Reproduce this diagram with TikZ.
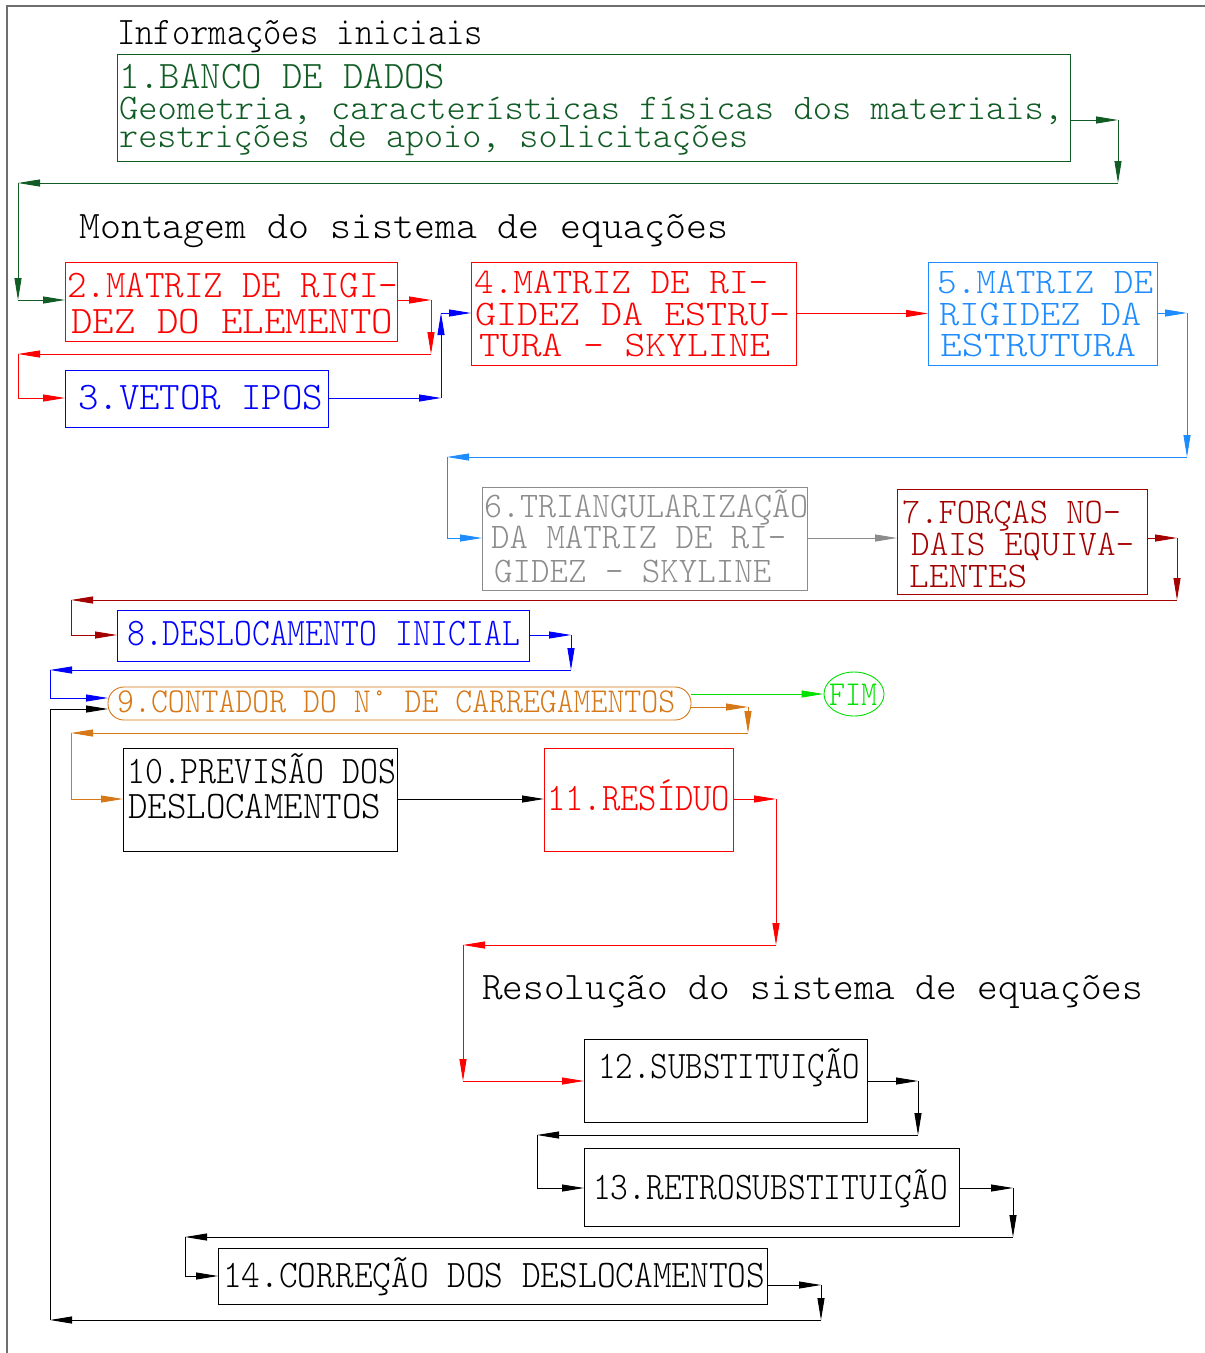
\documentclass[tikz,border=0pt]{standalone}
\usepackage{fontspec}
\usepackage{graphicx}
\usetikzlibrary{arrows.meta,shapes.geometric}
\newfontfamily\cadfont{lmmonolt10-regular.otf}
\definecolor{dkgreen}{RGB}{16,92,36}
\definecolor{cadred}{RGB}{255,0,0}
\definecolor{cadblue}{RGB}{0,0,255}
\definecolor{azure}{RGB}{30,140,255}
\definecolor{cadgray}{RGB}{140,140,140}
\definecolor{dkred}{RGB}{165,0,0}
\definecolor{cadorange}{RGB}{214,120,24}
\definecolor{brgreen}{RGB}{0,225,0}
\definecolor{framegray}{RGB}{110,110,110}
% squeeze a line of text to a given width, keeping its height
\newcommand\cadline[2]{\resizebox{#1pt}{\height}{#2}}
\begin{document}
\begin{tikzpicture}[x=1pt,y=-1pt,
  box/.style={draw, line width=0.9pt, inner sep=0pt, outer sep=0pt, anchor=north west},
  lbl/.style={inner sep=0pt, anchor=base west, font=\cadfont\fontsize{39}{39}\selectfont},
  tight/.style={font=\cadfont\fontsize{36}{36}\selectfont},
  small/.style={font=\cadfont\fontsize{35}{35}\selectfont},
  arr/.style={line width=0.9pt, -{Triangle[length=22pt,width=7pt]}},
  seg/.style={line width=0.9pt},
]
\useasboundingbox (0,0) rectangle (1205,1353);

% sheet frame
\draw[framegray, line width=1.2pt] (7,1353) -- (7,6) -- (1205,6);

% ---------- headings ----------
\node[lbl] (h1) at (117,44) {\cadline{366}{Informações iniciais}};
\node[lbl] (h2) at (79,238) {\cadline{649}{Montagem do sistema de equações}};
\node[lbl] (h3) at (482,999) {\cadline{661}{Resolução do sistema de equações}};

% ---------- boxes ----------
\node[box, dkgreen, minimum width=953pt, minimum height=107pt] (b1) at (117,54) {};
\node[box, cadred, minimum width=332pt, minimum height=79pt] (b2) at (65,262) {};
\node[box, cadblue, minimum width=263pt, minimum height=57pt] (b3) at (65,370) {};
\node[box, cadred, minimum width=325pt, minimum height=103pt] (b4) at (471,262) {};
\node[box, azure, minimum width=229pt, minimum height=103pt] (b5) at (928,262) {};
\node[box, cadgray, minimum width=325pt, minimum height=103pt] (b6) at (482,487) {};
\node[box, dkred, minimum width=250pt, minimum height=105pt] (b7) at (897,489) {};
\node[box, cadblue, minimum width=412pt, minimum height=51pt] (b8) at (117,610) {};
\node[box, cadorange, rounded corners=16pt, minimum width=583pt, minimum height=33pt] (b9) at (108,687) {};
\node[draw, brgreen, ellipse, line width=0.9pt, inner sep=0pt, minimum width=60pt, minimum height=44pt] (fim) at (854,694) {};
\node[box, black, minimum width=274pt, minimum height=103pt] (b10) at (123,748) {};
\node[box, cadred, minimum width=189pt, minimum height=103pt] (b11) at (544,748) {};
\node[box, black, minimum width=283pt, minimum height=83pt] (b12) at (584,1039) {};
\node[box, black, minimum width=375pt, minimum height=78pt] (b13) at (584,1148) {};
\node[box, black, minimum width=549pt, minimum height=56pt] (b14) at (218,1248) {};

% ---------- box texts ----------
\begin{scope}[dkgreen]
\node[lbl] (t1a) at (119,88) {\cadline{326}{1.BANCO DE DADOS}};
\node[lbl, tight] (t1b) at (119,119) {\cadline{944}{Geometria, características físicas dos materiais,}};
\node[lbl, tight] (t1c) at (119,147) {\cadline{629}{restrições de apoio, solicitações}};
\end{scope}
\begin{scope}[cadred]
\node[lbl] (t2a) at (67,297) {\cadline{331}{2.MATRIZ DE RIGI-}};
\node[lbl] (t2b) at (71,333) {\cadline{322}{DEZ DO ELEMENTO}};
\node[lbl, tight] (t4a) at (474,293) {\cadline{294}{4.MATRIZ DE RI-}};
\node[lbl, tight] (t4b) at (475,325) {\cadline{315}{GIDEZ DA ESTRU-}};
\node[lbl, tight] (t4c) at (479,356) {\cadline{291}{TURA - SKYLINE}};
\node[lbl] (t11) at (547,810) {\cadline{183}{11.RESÍDUO}};
\end{scope}
\begin{scope}[cadblue]
\node[lbl] (t3) at (78,409) {\cadline{245}{3.VETOR IPOS}};
\node[lbl] (t8) at (127,645) {\cadline{393}{8.DESLOCAMENTO INICIAL}};
\end{scope}
\begin{scope}[azure]
\node[lbl, tight] (t5a) at (937,293) {\cadline{216}{5.MATRIZ DE}};
\node[lbl, tight] (t5b) at (939,325) {\cadline{202}{RIGIDEZ DA}};
\node[lbl, tight] (t5c) at (940,356) {\cadline{196}{ESTRUTURA}};
\end{scope}
\begin{scope}[cadgray]
\node[lbl, tight] (t6a) at (484,517) {\cadline{324}{6.TRIANGULARIZAÇÃO}};
\node[lbl, tight] (t6b) at (491,548) {\cadline{295}{DA MATRIZ DE RI-}};
\node[lbl, tight] (t6c) at (494,582) {\cadline{277}{GIDEZ - SKYLINE}};
\end{scope}
\begin{scope}[dkred]
\node[lbl, tight] (t7a) at (902,523) {\cadline{219}{7.FORÇAS NO-}};
\node[lbl, tight] (t7b) at (911,555) {\cadline{223}{DAIS EQUIVA-}};
\node[lbl, tight] (t7c) at (909,587) {\cadline{118}{LENTES}};
\end{scope}
\node[lbl, small, cadorange] (t9) at (117,712) {\cadline{558}{9.CONTADOR DO N° DE CARREGAMENTOS}};
\node[lbl, small, brgreen] (tfim) at (829,705) {\cadline{48}{FIM}};
\node[lbl] (t10a) at (127,783) {\cadline{269}{10.PREVISÃO DOS}};
\node[lbl] (t10b) at (128,818) {\cadline{253}{DESLOCAMENTOS}};
\node[lbl] (t12) at (598,1078) {\cadline{262}{12.SUBSTITUIÇÃO}};
\node[lbl] (t13) at (593,1199) {\cadline{355}{13.RETROSUBSTITUIÇÃO}};
\node[lbl] (t14) at (223,1287) {\cadline{542}{14.CORREÇÃO DOS DESLOCAMENTOS}};

% ---------- bends of the connectors ----------
\coordinate (k1a) at (1118,120); \coordinate (k1b) at (1118,183);
\coordinate (k1c) at (18,183);   \coordinate (k1d) at (18,300);
\coordinate (k2a) at (431,300);  \coordinate (k2b) at (431,354);
\coordinate (k2c) at (18,354);   \coordinate (k2d) at (18,398);
\coordinate (k3a) at (441,398);  \coordinate (k3b) at (441,313);
\coordinate (k5a) at (1187,313); \coordinate (k5b) at (1187,457);
\coordinate (k5c) at (447,457);  \coordinate (k5d) at (447,538);
\coordinate (k7a) at (1177,538); \coordinate (k7b) at (1177,600);
\coordinate (k7c) at (71,600);   \coordinate (k7d) at (71,635);
\coordinate (k8a) at (571,635);  \coordinate (k8b) at (571,670);
\coordinate (k8c) at (50,670);   \coordinate (k8d) at (50,698);
\coordinate (k9a) at (748,707);  \coordinate (k9b) at (748,733);
\coordinate (k9c) at (71,733);   \coordinate (k9d) at (71,799);
\coordinate (k11a) at (776,799); \coordinate (k11b) at (776,945);
\coordinate (k11c) at (463,945); \coordinate (k11d) at (463,1081);
\coordinate (k12a) at (918,1081); \coordinate (k12b) at (918,1135);
\coordinate (k12c) at (537,1135); \coordinate (k12d) at (537,1188);
\coordinate (k13a) at (1013,1188); \coordinate (k13b) at (1013,1237);
\coordinate (k13c) at (185,1237); \coordinate (k13d) at (185,1276);
\coordinate (k14a) at (821,1285); \coordinate (k14b) at (821,1320);
\coordinate (k14c) at (50,1320);  \coordinate (k14d) at (50,709);

% ---------- connectors ----------
\begin{scope}[dkgreen]
\draw[arr] (b1.east |- k1a) -- (k1a);
\draw[arr] (k1a) -- (k1b);
\draw[arr] (k1b) -- (k1c);
\draw[arr] (k1c) -- (k1d);
\draw[arr] (k1d) -- (k1d -| b2.west);
\end{scope}
\begin{scope}[cadred]
\draw[arr] (b2.east |- k2a) -- (k2a);
\draw[arr] (k2a) -- (k2b);
\draw[arr] (k2b) -- (k2c);
\draw[seg] (k2c) -- (k2d);
\draw[arr] (k2d) -- (k2d -| b3.west);
\draw[arr] (b4.east) -- (b4.east -| b5.west);
\end{scope}
\begin{scope}[cadblue]
\draw[arr] (b3.east |- k3a) -- (k3a);
\draw[arr] (k3a) -- (k3b);
\draw[arr] (k3b) -- (k3b -| b4.west);
\end{scope}
\begin{scope}[azure]
\draw[arr] (b5.east |- k5a) -- (k5a);
\draw[arr] (k5a) -- (k5b);
\draw[arr] (k5b) -- (k5c);
\draw[seg] (k5c) -- (k5d);
\draw[arr] (k5d) -- (k5d -| b6.west);
\end{scope}
\draw[cadgray, arr] (b6.east |- k5d) -- (k5d -| b7.west);
\begin{scope}[dkred]
\draw[arr] (b7.east |- k7a) -- (k7a);
\draw[arr] (k7a) -- (k7b);
\draw[arr] (k7b) -- (k7c);
\draw[seg] (k7c) -- (k7d);
\draw[arr] (k7d) -- (k7d -| b8.west);
\end{scope}
\begin{scope}[cadblue]
\draw[arr] (b8.east |- k8a) -- (k8a);
\draw[arr] (k8a) -- (k8b);
\draw[arr] (k8b) -- (k8c);
\draw[seg] (k8c) -- (k8d);
\draw[arr] (k8d) -- (k8d -| b9.west);
\end{scope}
\draw[brgreen, arr] (b9.east |- fim.west) -- (fim.west);
\begin{scope}[cadorange]
\draw[arr] (b9.east |- k9a) -- (k9a);
\draw[arr] (k9a) -- (k9b);
\draw[arr] (k9b) -- (k9c);
\draw[seg] (k9c) -- (k9d);
\draw[arr] (k9d) -- (k9d -| b10.west);
\end{scope}
\draw[black, arr] (b10.east |- k9d) -- (k9d -| b11.west);
\begin{scope}[cadred]
\draw[arr] (b11.east |- k11a) -- (k11a);
\draw[arr] (k11a) -- (k11b);
\draw[arr] (k11b) -- (k11c);
\draw[arr] (k11c) -- (k11d);
\draw[arr] (k11d) -- (k11d -| b12.west);
\end{scope}
\begin{scope}[black]
\draw[arr] (b12.east |- k12a) -- (k12a);
\draw[arr] (k12a) -- (k12b);
\draw[arr] (k12b) -- (k12c);
\draw[seg] (k12c) -- (k12d);
\draw[arr] (k12d) -- (k12d -| b13.west);
\draw[arr] (b13.east |- k13a) -- (k13a);
\draw[arr] (k13a) -- (k13b);
\draw[arr] (k13b) -- (k13c);
\draw[seg] (k13c) -- (k13d);
\draw[arr] (k13d) -- (k13d -| b14.west);
\draw[arr] (b14.east |- k14a) -- (k14a);
\draw[arr] (k14a) -- (k14b);
\draw[arr] (k14b) -- (k14c);
\draw[seg] (k14c) -- (k14d);
\draw[arr] (k14d) -- (k14d -| b9.west);
\end{scope}
\end{tikzpicture}
\end{document}
